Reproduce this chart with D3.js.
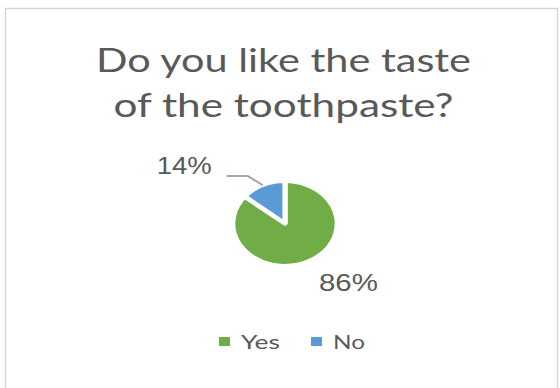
<!DOCTYPE html>
<html>
<head>
<meta charset="utf-8">
<script src="https://cdn.jsdelivr.net/npm/d3@7"></script>
<style>
  html, body { margin: 0; padding: 0; background: #fff; }
  svg { display: block; }
</style>
</head>
<body>
<svg id="chart" width="560" height="388"></svg>
<script>
// Survey answers
const categories = ["Yes", "No"];
const values = [86, 14];
const colors = ["#70ad47", "#5b9bd5"];
const titleLines = ["Do you like the taste", "of the toothpaste?"];

const W = 560, H = 388;
const svg = d3.select("#chart");
const textColor = "#595959";

// chart area frame
svg.append("rect")
  .attr("x", 5.5).attr("y", 8.5)
  .attr("width", 552).attr("height", H)
  .attr("fill", "#fff")
  .attr("stroke", "#d6d6d6")
  .attr("stroke-width", 1.5);

// title, two lines
const titleWidths = [375, 340];
const titleBase = [72, 117];
svg.selectAll("text.title")
  .data(titleLines)
  .join("text")
  .attr("class", "title")
  .attr("x", 283.5)
  .attr("y", (d, i) => titleBase[i])
  .attr("text-anchor", "middle")
  .attr("font-family", "Lato, 'Open Sans', sans-serif")
  .attr("font-size", 32)
  .attr("fill", textColor)
  .attr("textLength", (d, i) => titleWidths[i])
  .attr("lengthAdjust", "spacingAndGlyphs")
  .text(d => d);

// pie: drawn in a horizontally stretched frame
const cx = 285, cy = 223.5, sx = 1.23, r = 42.5;
const total = d3.sum(values);
const pie = d3.pie().sort(null).value(d => d.value);
const arcs = pie(categories.map((c, i) => ({ name: c, value: values[i], color: colors[i] })));
const arc = d3.arc().innerRadius(0).outerRadius(r);
const rim = d3.arc().innerRadius(r).outerRadius(r);

const gPie = svg.append("g")
  .attr("transform", `translate(${cx},${cy}) scale(${sx},1)`);
gPie.selectAll("path")
  .data(arcs)
  .join("path")
  .attr("d", arc)
  .attr("fill", d => d.data.color)
  .attr("stroke", "#fff")
  .attr("stroke-width", 4.2)
  .attr("stroke-linejoin", "round");

const toScreen = p => [cx + p[0] * sx, cy + p[1]];
const pct = d => Math.round(d.data.value / total * 100) + "%";
const labelFont = "'Liberation Sans', Arial, sans-serif";

// "No" label with leader line
const noArc = arcs[1];
const [ex, ey] = toScreen(rim.centroid(noArc));
const elbow = [ex - 15, ey - 9];
const lineEnd = [elbow[0] - 21, elbow[1]];
svg.append("path")
  .attr("d", d3.line()([[ex, ey], elbow, lineEnd]))
  .attr("fill", "none")
  .attr("stroke", "#a5a5a5")
  .attr("stroke-width", 2);
svg.append("text")
  .attr("x", lineEnd[0] - 15)
  .attr("y", lineEnd[1] - 2)
  .attr("text-anchor", "end")
  .attr("font-family", labelFont)
  .attr("font-size", 24)
  .attr("fill", textColor)
  .attr("textLength", 55)
  .attr("lengthAdjust", "spacingAndGlyphs")
  .text(pct(noArc));

// "Yes" label outside the slice
const yesArc = arcs[0];
const labelRim = d3.arc().innerRadius(r * 1.55).outerRadius(r * 1.55);
const [lx, ly] = toScreen(labelRim.centroid(yesArc));
svg.append("text")
  .attr("x", lx + 29)
  .attr("y", ly + 8)
  .attr("text-anchor", "middle")
  .attr("font-family", labelFont)
  .attr("font-size", 24)
  .attr("fill", textColor)
  .attr("textLength", 59)
  .attr("lengthAdjust", "spacingAndGlyphs")
  .text(pct(yesArc));

// legend
const legendX = d3.scaleOrdinal().domain(categories).range([219, 311]);
const legendTextW = [39, 32];
const lg = svg.append("g").selectAll("g")
  .data(categories)
  .join("g");
lg.append("rect")
  .attr("x", d => legendX(d))
  .attr("y", 337)
  .attr("width", 11)
  .attr("height", 9)
  .attr("fill", (d, i) => colors[i]);
lg.append("text")
  .attr("x", d => legendX(d) + 22)
  .attr("y", 349)
  .attr("font-family", "Lato, 'Open Sans', sans-serif")
  .attr("font-size", 20)
  .attr("fill", textColor)
  .attr("textLength", (d, i) => legendTextW[i])
  .attr("lengthAdjust", "spacingAndGlyphs")
  .text(d => d);
</script>
</body>
</html>
